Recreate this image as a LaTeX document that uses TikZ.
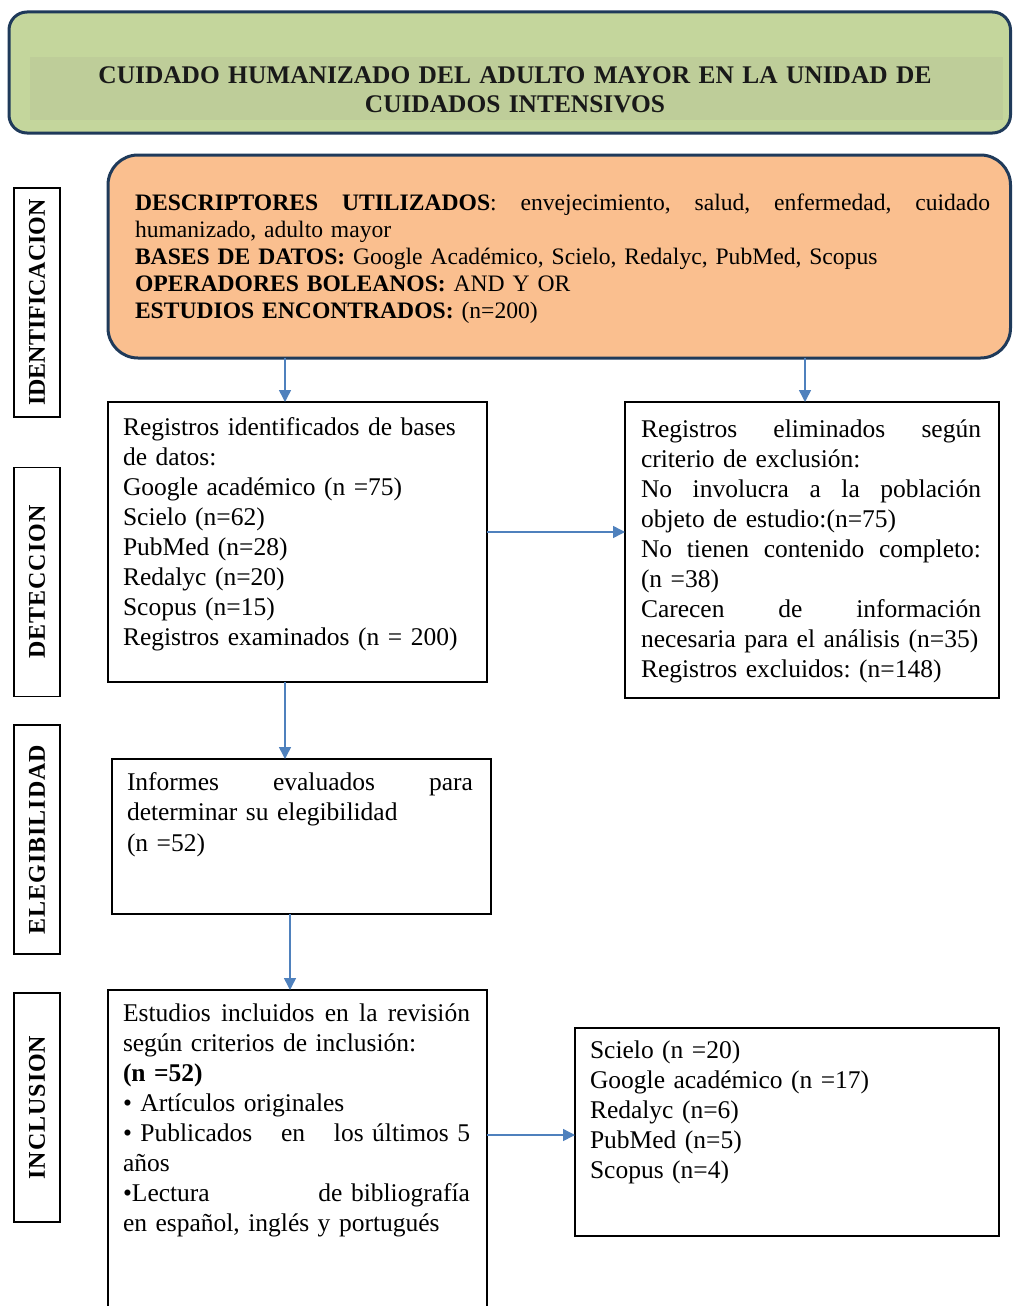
\documentclass[tikz,border=0pt]{standalone}
\usepackage{fontspec}
\setmainfont{Liberation Serif}
\usetikzlibrary{arrows.meta,calc}
\definecolor{titlegreen}{HTML}{C4D69C}
\definecolor{bandgreen}{HTML}{BECD99}
\definecolor{orangefill}{HTML}{FABF8F}
\definecolor{navyline}{HTML}{1F3A5A}
\definecolor{arrowblue}{HTML}{4F81BD}
\newcommand{\jline}[2]{\leavevmode\hbox to #1{#2}}
\frenchspacing
\tikzset{
  roundbox/.style={draw=navyline, line width=3pt, inner sep=0pt, outer sep=0pt, anchor=north west},
  rectbox/.style={draw=black, line width=1.4pt, inner sep=0pt, outer sep=0pt, anchor=north west},
  sidebox/.style={draw=black, line width=1.4pt, inner sep=0pt, outer sep=0pt, rotate=90,
                  minimum width=229pt, minimum height=46pt, font=\fontsize{24}{24}\selectfont\bfseries},
  bodytext/.style={inner sep=0pt, outer sep=0pt, anchor=base west, align=left,
                   font=\fontsize{25.5}{30}\selectfont},
  arr/.style={draw=arrowblue, line width=1.5pt, -{Triangle[width=12pt,length=12pt]}, arrowblue}
}
\begin{document}
\begin{tikzpicture}[x=1pt,y=-1pt]
\useasboundingbox (0,0) rectangle (1013,1306);
\fill[white] (0,0) rectangle (1013,1306);

% title
\node[roundbox, fill=titlegreen, rounded corners=18pt, minimum width=1001.5pt, minimum height=121pt] (title) at (9,12) {};
\node[fill=bandgreen, inner sep=0pt, outer sep=0pt, anchor=north west, minimum width=973pt, minimum height=63pt] (band) at (30,57) {};
\node[inner sep=0pt, anchor=base, text width=900pt, align=center, text=black!90,
      font=\fontsize{25.4}{29}\selectfont\bfseries] (titletext) at (515,83)
      {CUIDADO HUMANIZADO DEL ADULTO MAYOR EN LA UNIDAD DE\\CUIDADOS INTENSIVOS};

% identification box
\node[roundbox, fill=orangefill, rounded corners=30pt, minimum width=902.5pt, minimum height=203pt] (ident) at (108,155) {};
\node[inner sep=0pt, outer sep=0pt, anchor=base west, text width=855pt, align=left,
      font=\fontsize{23.6}{27}\selectfont] (identtext) at (135,210)
{\jline{855pt}{\textbf{DESCRIPTORES}\hfill\textbf{UTILIZADOS}:\hfill envejecimiento,\hfill salud,\hfill enfermedad,\hfill cuidado}\\
humanizado, adulto mayor\\
\textbf{BASES DE DATOS:} Google Académico, Scielo, Redalyc, PubMed, Scopus\\
\textbf{OPERADORES BOLEANOS:} AND Y OR\\
\textbf{ESTUDIOS ENCONTRADOS:} (n=200)};

% side labels
\node[sidebox] (lab1) at (37,302.5) {IDENTIFICACION};
\node[sidebox] (lab2) at (37,582) {\addfontfeatures{LetterSpace=4}DETECCION};
\node[sidebox] (lab3) at (37,839.5) {\addfontfeatures{LetterSpace=4}ELEGIBILIDAD};
\node[sidebox] (lab4) at (37,1107.5) {\addfontfeatures{LetterSpace=4}INCLUSION};

% records identified
\node[rectbox, minimum width=379pt, minimum height=280pt] (reg) at (108,402) {};
\node[bodytext, text width=347pt] (regtext) at (123,435)
{Registros identificados de bases\\
de datos:\\
Google académico (n =75)\\
Scielo (n=62)\\
PubMed (n=28)\\
Redalyc (n=20)\\
Scopus (n=15)\\
Registros examinados (n = 200)};

% excluded
\node[rectbox, minimum width=374pt, minimum height=296pt] (excl) at (625,402) {};
\node[bodytext, text width=340pt] (excltext) at (641,437)
{\jline{340pt}{Registros\hfill eliminados\hfill según}\\
criterio de exclusión:\\
\jline{340pt}{No\hfill involucra\hfill a\hfill la\hfill población}\\
objeto de estudio:(n=75)\\
\jline{340pt}{No\hfill tienen\hfill contenido\hfill completo:}\\
(n =38)\\
\jline{340pt}{Carecen\hfill de\hfill información}\\
necesaria para el análisis (n=35)\\
Registros excluidos: (n=148)};

% eligibility
\node[rectbox, minimum width=379pt, minimum height=155pt] (elig) at (112,759) {};
\node[bodytext, text width=346pt, font=\fontsize{25.5}{30.5}\selectfont] (eligtext) at (127,790)
{\jline{346pt}{Informes\hfill evaluados\hfill para}\\
determinar su elegibilidad\\
(n =52)};

% inclusion
\node[rectbox, minimum width=379pt, minimum height=330pt] (incl) at (108,990) {};
\node[bodytext, text width=347pt] (incltext) at (123,1021)
{\jline{347pt}{Estudios\hfill incluidos\hfill en\hfill la\hfill revisión}\\
según criterios de inclusión:\\
\textbf{(n =52)}\\
• Artículos originales\\
\jline{347pt}{• Publicados\hfill en\hfill los últimos 5}\\
años\\
\jline{347pt}{•Lectura\hfill de bibliografía}\\
en español, inglés y portugués};

% results by database
\node[rectbox, minimum width=424pt, minimum height=208pt] (res) at (575,1028) {};
\node[bodytext, text width=390pt] (restext) at (590,1058)
{Scielo (n =20)\\
Google académico (n =17)\\
Redalyc (n=6)\\
PubMed (n=5)\\
Scopus (n=4)};

% arrows
\coordinate (ax1) at (285,0);
\coordinate (ax2) at (805,0);
\coordinate (ax5) at (290,0);
\coordinate (ay3) at (0,532);
\coordinate (ay6) at (0,1135);
\draw[arr] (ident.south -| ax1) -- (reg.north -| ax1);
\draw[arr] (ident.south -| ax2) -- (excl.north -| ax2);
\draw[arr] (reg.east |- ay3) -- (excl.west |- ay3);
\draw[arr] (reg.south -| ax1) -- (elig.north -| ax1);
\draw[arr] (elig.south -| ax5) -- (incl.north -| ax5);
\draw[arr] (incl.east |- ay6) -- (res.west |- ay6);
\end{tikzpicture}
\end{document}
